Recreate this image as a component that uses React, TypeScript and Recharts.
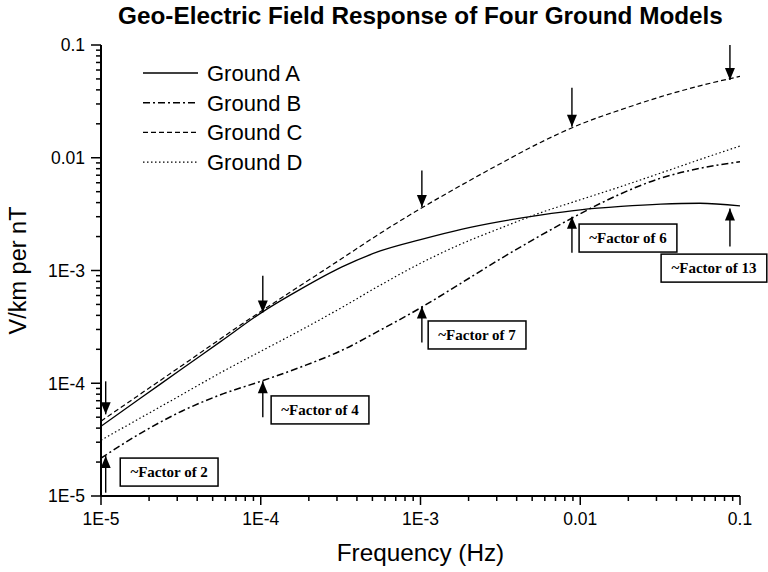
import React from 'react';
import { LineChart, Line, XAxis, YAxis, Legend, ReferenceLine, ReferenceDot } from 'recharts';

// frequency grid (Hz) shared by the four ground models
const freq = [1e-5, 1.8e-5, 3.2e-5, 5.6e-5, 1e-4, 1.8e-4, 3.2e-4, 5.6e-4, 1e-3, 1.8e-3, 3.2e-3, 5.6e-3, 0.01, 0.018, 0.032, 0.056, 0.1];
// V/km per nT
const groundA = [4.16e-5, 7.5e-5, 1.34e-4, 2.34e-4, 4.19e-4, 6.9e-4, 1.07e-3, 1.49e-3, 1.88e-3, 2.32e-3, 2.73e-3, 3.1e-3, 3.45e-3, 3.7e-3, 3.88e-3, 3.95e-3, 3.75e-3];
const groundB = [2.17e-5, 3.65e-5, 5.65e-5, 7.9e-5, 1.04e-4, 1.4e-4, 1.95e-4, 2.96e-4, 4.66e-4, 7.74e-4, 1.28e-3, 2.03e-3, 3.19e-3, 4.8e-3, 6.6e-3, 8.05e-3, 9.2e-3];
const groundC = [4.61e-5, 8.18e-5, 1.43e-4, 2.48e-4, 4.33e-4, 7.46e-4, 1.27e-3, 2.14e-3, 3.54e-3, 5.71e-3, 8.95e-3, 0.0136, 0.0198, 0.0267, 0.0348, 0.0434, 0.0527];
const groundD = [3.13e-5, 5.0e-5, 7.91e-5, 1.24e-4, 1.92e-4, 2.98e-4, 4.68e-4, 7.41e-4, 1.16e-3, 1.72e-3, 2.39e-3, 3.24e-3, 4.24e-3, 5.56e-3, 7.33e-3, 9.64e-3, 0.0127];

// annotation arrows: frequency, shaft start and tip values
const arrowFreq = [1.07e-5, 1.03e-4, 1.02e-3, 8.87e-3, 0.0865];
const downFrom = [1.04e-4, 9.0e-4, 7.7e-3, 0.0417, 0.1];
const downTip = [5.3e-5, 4.25e-4, 3.65e-3, 0.0188, 0.049];
const upFrom = [1.07e-5, 5.0e-5, 2.3e-4, 1.44e-3, 1.63e-3];
const upTip = [2.26e-5, 1.04e-4, 4.8e-4, 3.0e-3, 3.54e-3];

// factor boxes
const factorText = ['~Factor of 2', '~Factor of 4', '~Factor of 7', '~Factor of 6', '~Factor of 13'];
const factorFreq = [2.67e-5, 2.35e-4, 2.26e-3, 0.0199, 0.0687];
const factorVal = [1.63e-5, 5.8e-5, 2.68e-4, 1.94e-3, 1.05e-3];

// axis ticks
const xMajor = [1e-5, 1e-4, 1e-3, 0.01, 0.1];
const xLabels = ['1E-5', '1E-4', '1E-3', '0.01', '0.1'];
const yMajor = [1e-5, 1e-4, 1e-3, 0.01, 0.1];
const yLabels = ['1E-5', '1E-4', '1E-3', '0.01', '0.1'];
const minorSteps = [2, 3, 4, 5, 6, 7, 8, 9];

const withMinor = (majors: number[]) =>
  majors.flatMap((m, i) => (i < majors.length - 1 ? [m, ...minorSteps.map((k) => k * m)] : [m]));

const rows = freq.map((f, i) => ({ f, a: groundA[i], b: groundB[i], c: groundC[i], d: groundD[i] }));

const series = [
  { key: 'a', name: 'Ground A', dash: undefined, width: 1.3 },
  { key: 'b', name: 'Ground B', dash: '7 3 2 3', width: 1.5 },
  { key: 'c', name: 'Ground C', dash: '5 3', width: 1.2 },
  { key: 'd', name: 'Ground D', dash: '1.5 2.5', width: 1.2 },
];

const SANS = '"Liberation Sans", Arial, sans-serif';
const SERIF = '"Liberation Serif", "Times New Roman", serif';

const majorIndex = (majors: number[], v: number) => majors.findIndex((m) => Math.abs(m - v) / m < 1e-6);

const XTick = (props: any) => {
  const { x, y, payload } = props;
  const i = majorIndex(xMajor, payload.value);
  return (
    <g>
      <line x1={x} x2={x} y1={y} y2={y + (i >= 0 ? 9 : 5)} stroke="#000" strokeWidth={1.5} />
      {i >= 0 && (
        <text x={x} y={y + 29} textAnchor="middle" fontFamily={SANS} fontSize={17.5} fill="#000">
          {xLabels[i]}
        </text>
      )}
    </g>
  );
};

const YTick = (props: any) => {
  const { x, y, payload } = props;
  const i = majorIndex(yMajor, payload.value);
  return (
    <g>
      <line x1={x - (i >= 0 ? 10 : 5)} x2={x} y1={y} y2={y} stroke="#000" strokeWidth={1.5} />
      {i >= 0 && (
        <text x={x - 16} y={y} dy="0.36em" textAnchor="end" fontFamily={SANS} fontSize={17.5} fill="#000">
          {yLabels[i]}
        </text>
      )}
    </g>
  );
};

const ArrowHead = (dir: 'up' | 'down') => (props: any) => {
  const { cx, cy } = props;
  const s = dir === 'down' ? -1 : 1;
  return (
    <polygon
      points={`${cx},${cy} ${cx - 5},${cy + s * 12} ${cx + 5},${cy + s * 12}`}
      fill="#000"
    />
  );
};

const FactorBox = (text: string) => (props: any) => {
  const { cx, cy } = props;
  const w = text.length * 7.9 + 3;
  const h = 28;
  return (
    <g>
      <rect x={cx - w / 2} y={cy - h / 2} width={w} height={h} fill="#fff" stroke="#000" strokeWidth={1.5} />
      <text x={cx} y={cy} dy="0.33em" textAnchor="middle" fontFamily={SERIF} fontWeight="bold" fontSize={15} fill="#000">
        {text}
      </text>
    </g>
  );
};

const LegendBox = () => (
  <svg width={220} height={120}>
    {series.map((s, i) => (
      <g key={s.key}>
        <line x1={3} x2={58} y1={15 + i * 29.7} y2={15 + i * 29.7} stroke="#000" strokeWidth={s.width} strokeDasharray={s.dash} />
        <text x={67} y={15 + i * 29.7} dy="0.36em" fontFamily={SANS} fontSize={22} fill="#000">
          {s.name}
        </text>
      </g>
    ))}
  </svg>
);

export default function App() {
  return (
    <div style={{ position: 'fixed', left: 0, top: 0, width: 768, height: 572, background: '#fff' }}>
      <div
        style={{
          position: 'absolute',
          left: 101,
          width: 639,
          top: 2,
          textAlign: 'center',
          fontFamily: SANS,
          fontWeight: 'bold',
          fontSize: 24.3,
          color: '#000',
          zIndex: 2,
        }}
      >
        Geo-Electric Field Response of Four Ground Models
      </div>
      <LineChart width={768} height={572} data={rows} margin={{ top: 45, right: 28, bottom: 0, left: 0 }}>
        <XAxis
          dataKey="f"
          type="number"
          scale="log"
          domain={[1e-5, 0.1]}
          allowDataOverflow
          ticks={withMinor(xMajor)}
          interval={0}
          tick={<XTick />}
          tickLine={false}
          tickSize={0}
          tickMargin={0}
          height={76}
          axisLine={{ stroke: '#000', strokeWidth: 2 }}
          label={{
            content: (p: any) => (
              <text
                x={p.viewBox.x + p.viewBox.width / 2}
                y={p.viewBox.y + 65}
                textAnchor="middle"
                fontFamily={SANS}
                fontSize={24.3}
                fill="#000"
              >
                Frequency (Hz)
              </text>
            ),
          }}
        />
        <YAxis
          type="number"
          scale="log"
          domain={[1e-5, 0.1]}
          allowDataOverflow
          ticks={withMinor(yMajor)}
          interval={0}
          tick={<YTick />}
          tickLine={false}
          tickSize={0}
          tickMargin={0}
          width={101}
          axisLine={{ stroke: '#000', strokeWidth: 2 }}
          label={{
            content: (p: any) => {
              const cx = p.viewBox.x + 18;
              const cy = p.viewBox.y + p.viewBox.height / 2;
              return (
                <text
                  x={cx}
                  y={cy}
                  dy="0.36em"
                  transform={`rotate(-90 ${cx} ${cy})`}
                  textAnchor="middle"
                  fontFamily={SANS}
                  fontSize={23.5}
                  fill="#000"
                >
                  V/km per nT
                </text>
              );
            },
          }}
        />
        <Legend
          layout="vertical"
          align="center"
          verticalAlign="middle"
          content={<LegendBox />}
          wrapperStyle={{ left: 140, top: 58, width: 220, height: 120 }}
        />
        {series.map((s) => (
          <Line
            key={s.key}
            dataKey={s.key}
            name={s.name}
            type="monotone"
            stroke="#000"
            strokeWidth={s.width}
            strokeDasharray={s.dash}
            dot={false}
            activeDot={false}
            isAnimationActive={false}
          />
        ))}
        {arrowFreq.map((f, i) => (
          <ReferenceLine
            key={`dl${i}`}
            segment={[{ x: f, y: downFrom[i] }, { x: f, y: downTip[i] }]}
            stroke="#000"
            strokeWidth={1.4}
            ifOverflow="visible"
          />
        ))}
        {arrowFreq.map((f, i) => (
          <ReferenceLine
            key={`ul${i}`}
            segment={[{ x: f, y: upFrom[i] }, { x: f, y: upTip[i] }]}
            stroke="#000"
            strokeWidth={1.4}
            ifOverflow="visible"
          />
        ))}
        {arrowFreq.map((f, i) => (
          <ReferenceDot key={`dh${i}`} x={f} y={downTip[i]} r={1} shape={ArrowHead('down')} ifOverflow="visible" />
        ))}
        {arrowFreq.map((f, i) => (
          <ReferenceDot key={`uh${i}`} x={f} y={upTip[i]} r={1} shape={ArrowHead('up')} ifOverflow="visible" />
        ))}
        {factorText.map((t, i) => (
          <ReferenceDot key={`fb${i}`} x={factorFreq[i]} y={factorVal[i]} r={1} shape={FactorBox(t)} ifOverflow="visible" />
        ))}
      </LineChart>
    </div>
  );
}
